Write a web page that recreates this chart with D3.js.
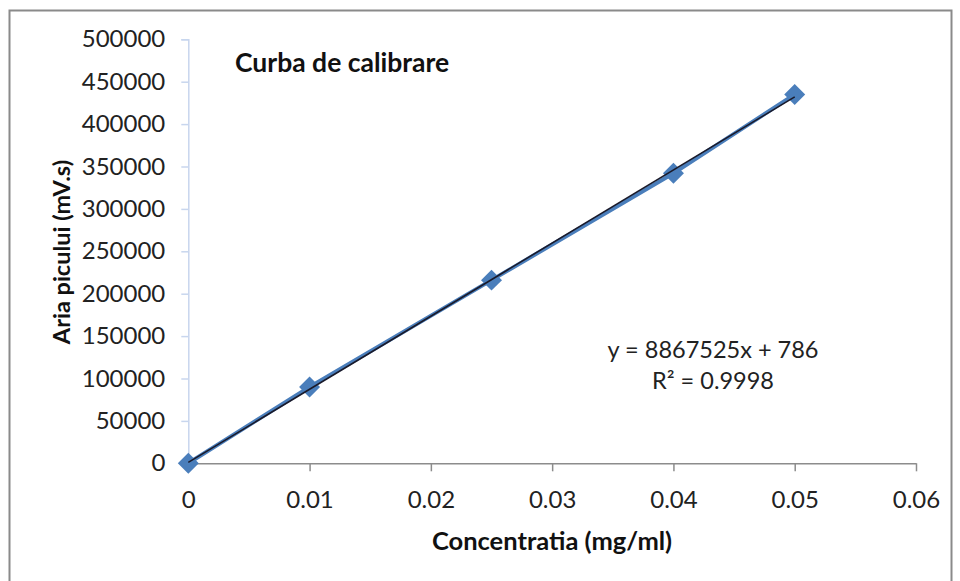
<!DOCTYPE html>
<html>
<head>
<meta charset="utf-8">
<script src="https://cdn.jsdelivr.net/npm/d3@7"></script>
<style>
  html, body { margin: 0; padding: 0; background: #fff; }
  svg { display: block; }
</style>
</head>
<body>
<svg id="chart" width="960" height="581"></svg>
<script>
const concentrations = [0, 0.01, 0.025, 0.04, 0.05];
const peakAreas = [0, 90000, 216000, 342000, 435000];
const xTicks = [0, 0.01, 0.02, 0.03, 0.04, 0.05, 0.06];
const yTicks = [0, 50000, 100000, 150000, 200000, 250000, 300000, 350000, 400000, 450000, 500000];
const chartTitle = "Curba de calibrare";
const xTitle = "Concentratia (mg/ml)";
const yTitle = "Aria picului (mV.s)";
const eqLines = ["y = 8867525x + 786", "R² = 0.9998"];

const svg = d3.select("#chart");
const font = "Lato, 'Open Sans', sans-serif";

// outer frame
svg.append("rect").attr("x", 9.5).attr("y", 10.5).attr("width", 942).attr("height", 600)
  .attr("fill", "none").attr("stroke", "#8a8a8a").attr("stroke-width", 2);

const x = d3.scaleLinear().domain([0, 0.06]).range([188.3, 916]);
const y = d3.scaleLinear().domain([0, 500000]).range([463.3, 39.3]);

// Y axis
const yAxis = d3.axisLeft(y).tickValues(yTicks).tickSize(7).tickPadding(16).tickFormat(d3.format("d"));
const gy = svg.append("g").attr("transform", `translate(${x(0)},0)`).call(yAxis);
gy.select(".domain").attr("stroke", "#c8d6ee").attr("stroke-width", 1.5);
gy.selectAll(".tick line").attr("stroke", "#c8d6ee").attr("stroke-width", 1.5);
gy.selectAll(".tick text").attr("font-family", font).attr("font-size", 24).attr("fill", "#222");

// X axis
const xAxis = d3.axisBottom(x).tickValues(xTicks).tickSize(8).tickSizeOuter(0).tickPadding(20).tickFormat(d => d === 0 ? "0" : d3.format(".2f")(d));
const gx = svg.append("g").attr("transform", `translate(0,${y(0)})`).call(xAxis);
gx.select(".domain").attr("stroke", "#8c8c8c").attr("stroke-width", 1.5);
gx.selectAll(".tick line").attr("stroke", "#8c8c8c").attr("stroke-width", 1.5);
gx.selectAll(".tick text").attr("font-family", font).attr("font-size", 24).attr("fill", "#222");

// series line
const pts = concentrations.map((c, i) => [c, peakAreas[i]]);
const line = d3.line().x(d => x(d[0])).y(d => y(d[1]));
svg.append("path").datum(pts).attr("d", line)
  .attr("fill", "none").attr("stroke", "#4a7ebb").attr("stroke-width", 4);

// markers (diamonds = rotated squares)
svg.append("g").selectAll("path").data(pts).join("path")
  .attr("d", d3.symbol().type(d3.symbolSquare).size(220))
  .attr("transform", d => `translate(${x(d[0])},${y(d[1])}) rotate(45)`)
  .attr("fill", "#4a7ebb");

// linear trendline (least squares from data)
const mx = d3.mean(concentrations), my = d3.mean(peakAreas);
const slope = d3.sum(pts, d => (d[0] - mx) * (d[1] - my)) / d3.sum(pts, d => (d[0] - mx) ** 2);
const icpt = my - slope * mx;
const xmin = d3.min(concentrations), xmax = d3.max(concentrations);
svg.append("path").datum([[xmin, slope * xmin + icpt], [xmax, slope * xmax + icpt]]).attr("d", line)
  .attr("fill", "none").attr("stroke", "#1a1a2a").attr("stroke-width", 1.6);

// title
svg.append("text").attr("x", 235).attr("y", 72).attr("font-family", font).attr("font-weight", "bold")
  .attr("font-size", 26.5).attr("fill", "#111").text(chartTitle);

// axis titles
svg.append("text").attr("x", 552).attr("y", 550).attr("text-anchor", "middle").attr("font-family", font)
  .attr("font-weight", "bold").attr("font-size", 25.5).attr("fill", "#111").text(xTitle);
svg.append("text").attr("transform", "translate(70,252) rotate(-90)").attr("text-anchor", "middle")
  .attr("font-family", font).attr("font-weight", "bold").attr("font-size", 23.5).attr("fill", "#111").text(yTitle);

// equation
const eq = svg.append("text").attr("font-family", font).attr("font-size", 23.5).attr("fill", "#222").attr("text-anchor", "middle");
eq.append("tspan").attr("x", 713).attr("y", 358).text(eqLines[0]);
eq.append("tspan").attr("x", 713).attr("y", 389).text(eqLines[1]);
</script>
</body>
</html>
